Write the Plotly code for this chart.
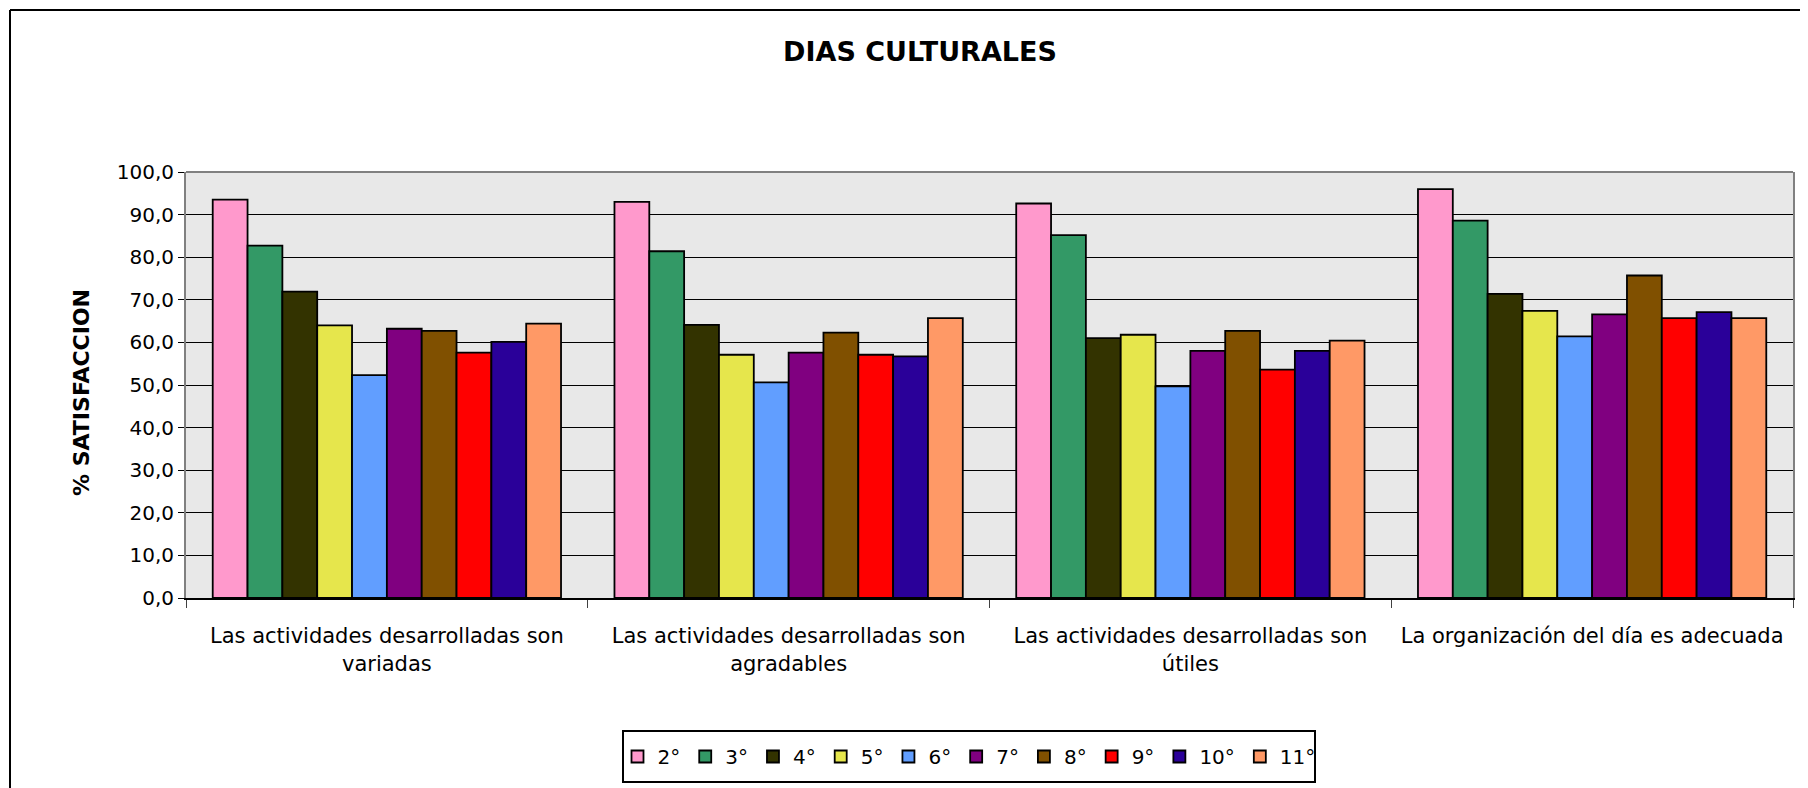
import plotly.graph_objects as go

categories = [
    "Las actividades desarrolladas son<br>variadas",
    "Las actividades desarrolladas son<br>agradables",
    "Las actividades desarrolladas son<br>útiles",
    "La organización del día es adecuada",
]
series_names = ["2°", "3°", "4°", "5°", "6°", "7°", "8°", "9°", "10°", "11°"]
v2 = [93.5, 93.0, 92.6, 96.0]
v3 = [82.7, 81.4, 85.2, 88.6]
v4 = [71.9, 64.1, 61.0, 71.4]
v5 = [64.0, 57.1, 61.8, 67.4]
v6 = [52.3, 50.6, 49.7, 61.4]
v7 = [63.2, 57.6, 58.0, 66.6]
v8 = [62.7, 62.3, 62.7, 75.7]
v9 = [57.6, 57.1, 53.6, 65.7]
v10 = [60.1, 56.7, 58.0, 67.1]
v11 = [64.4, 65.7, 60.4, 65.7]
series_values = [v2, v3, v4, v5, v6, v7, v8, v9, v10, v11]
colors = ["#FF99CC", "#339966", "#333300", "#E6E64C", "#619EFF",
          "#800080", "#805000", "#FF0000", "#2A0099", "#FF9966"]
y_ticks = [0, 10, 20, 30, 40, 50, 60, 70, 80, 90, 100]

# page has an 8px body margin; lay the figure out in page coordinates
O = 8
W, H = 1808 - O, 788 - O
L, R, T, B = 186 - O, 1793 - O, 172 - O, 598 - O
pw, ph = R - L, B - T


def px(x):
    return (x - O - L) / pw


def py(y):
    return (B - (y - O)) / ph


fig = go.Figure()
for name, vals, col in zip(series_names, series_values, colors):
    fig.add_trace(go.Bar(
        name=name, x=categories, y=vals,
        marker=dict(color=col, line=dict(color="black", width=1.8)),
    ))

FONT = "DejaVu Sans"
fig.update_layout(
    width=W, height=H,
    margin=dict(l=L, r=W - R, t=T, b=H - B),
    paper_bgcolor="white",
    plot_bgcolor="#E8E8E8",
    barmode="group", bargap=0.133, bargroupgap=0,
    separators=",.",
    font=dict(family=FONT, size=20, color="black"),
    title=dict(text="<b>DIAS CULTURALES</b>", x=(920 - O) / W, xanchor="center",
               y=1 - (52 - O) / H, yanchor="middle",
               font=dict(family=FONT, size=27, color="black")),
    showlegend=True,
    legend=dict(orientation="h", x=(px(623) + px(1315)) / 2, xanchor="center",
                y=(py(731) + py(782)) / 2, yanchor="middle",
                bgcolor="rgba(0,0,0,0)", borderwidth=0,
                font=dict(family=FONT, size=20, color="black"),
                traceorder="normal"),
    xaxis=dict(
        showline=True, linecolor="black", linewidth=2, mirror=False,
        ticks="outside", tickson="boundaries", ticklen=8, tickcolor="#404040",
        tickwidth=1, showgrid=False, ticklabelstandoff=18,
        tickfont=dict(family=FONT, size=21, color="black"),
    ),
    yaxis=dict(
        range=[0, 100], tickvals=y_ticks, tickformat=".1f",
        showline=True, linecolor="#808080", linewidth=2, mirror=True,
        ticks="outside", ticklen=6, tickcolor="black", tickwidth=1,
        showgrid=True, gridcolor="black", gridwidth=1.2, zeroline=False,
        tickfont=dict(family=FONT, size=20, color="black"),
    ),
    shapes=[
        # plot-area top edge (gray)
        dict(type="line", xref="paper", yref="paper", x0=0, x1=1, y0=1, y1=1,
             line=dict(color="#808080", width=2), layer="above"),
        # outer chart border (left and top)
        dict(type="line", xref="paper", yref="paper", x0=px(10), x1=px(10),
             y0=py(10), y1=py(800), line=dict(color="black", width=2)),
        dict(type="line", xref="paper", yref="paper", x0=px(10), x1=px(1815),
             y0=py(10), y1=py(10), line=dict(color="black", width=2)),
        # legend box
        dict(type="rect", xref="paper", yref="paper", x0=px(623), x1=px(1315),
             y0=py(782), y1=py(731), fillcolor="white",
             line=dict(color="black", width=2), layer="above"),
    ],
    annotations=[
        dict(text="<b>% SATISFACCION</b>", textangle=-90, xref="paper",
             yref="paper", x=px(81), y=py(393), xanchor="center",
             yanchor="middle", showarrow=False,
             font=dict(family=FONT, size=22, color="black")),
    ],
)

fig.write_html("out.html")
